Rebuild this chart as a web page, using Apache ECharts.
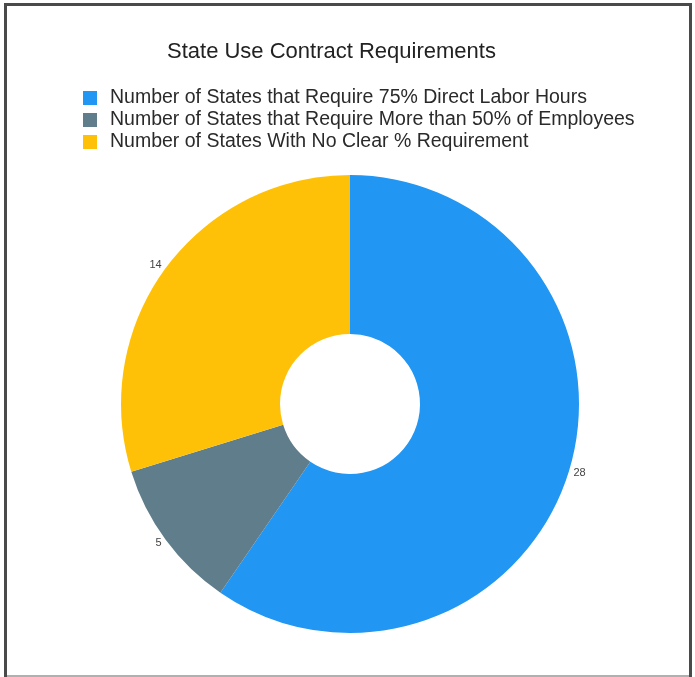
<!DOCTYPE html>
<html>
<head>
<meta charset="utf-8">
<script src="https://cdn.jsdelivr.net/npm/echarts@6/dist/echarts.min.js"></script>
<style>
html,body{margin:0;padding:0;background:#fff;}
#chart{width:695px;height:677px;}
</style>
</head>
<body>
<div id="chart"></div>
<script>
const titleText = 'State Use Contract Requirements';
const categories = [
  'Number of States that Require 75% Direct Labor Hours',
  'Number of States that Require More than 50% of Employees',
  'Number of States With No Clear % Requirement'
];
const values = [28, 5, 14];
const colors = ['#2196F3', '#607D8B', '#FFC107'];

const chart = echarts.init(document.getElementById('chart'), null, {renderer: 'canvas'});
const fontFam = '"Liberation Sans", Arial, sans-serif';
chart.setOption({
  animation: false,
  color: colors,
  title: {
    text: titleText,
    left: 162,
    top: 36,
    textStyle: {fontFamily: fontFam, fontSize: 22, fontWeight: 'normal', color: '#222'}
  },
  legend: {
    orient: 'vertical',
    left: 78,
    top: 83,
    itemWidth: 14,
    itemHeight: 14,
    itemGap: 2,
    icon: 'rect',
    textStyle: {fontFamily: fontFam, fontSize: 19.5, lineHeight: 18, color: '#2a2a2a', padding: [0, 0, 0, 8]},
    data: categories
  },
  graphic: [
    {type: 'line', shape: {x1: 5.5, y1: 3, x2: 5.5, y2: 677}, style: {stroke: '#4a4a4a', lineWidth: 3}, silent: true},
    {type: 'line', shape: {x1: 4, y1: 4.5, x2: 692, y2: 4.5}, style: {stroke: '#4a4a4a', lineWidth: 3}, silent: true},
    {type: 'line', shape: {x1: 690.5, y1: 3, x2: 690.5, y2: 677}, style: {stroke: '#4a4a4a', lineWidth: 3}, silent: true},
    {type: 'line', shape: {x1: 7, y1: 676, x2: 689, y2: 676}, style: {stroke: '#b0b0b0', lineWidth: 2}, silent: true}
  ],
  series: [{
    type: 'pie',
    center: [350, 404],
    radius: [70, 229],
    startAngle: 90,
    clockwise: true,
    avoidLabelOverlap: false,
    label: {
      show: true,
      position: 'outside',
      formatter: '{c}',
      fontFamily: fontFam,
      fontSize: 11,
      color: '#444',
      distanceToLabelLine: 0
    },
    labelLine: {show: false, length: 5, length2: 0},
    emphasis: {disabled: true},
    data: categories.map((c, i) => ({name: c, value: values[i]}))
  }]
});
</script>
</body>
</html>
